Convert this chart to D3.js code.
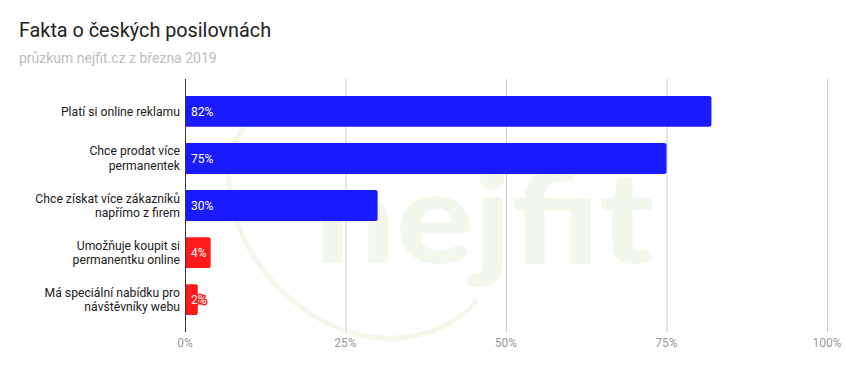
<!DOCTYPE html>
<html><head><meta charset="utf-8">
<script src="https://cdn.jsdelivr.net/npm/d3@7"></script>
<style>body{margin:0;background:#fff}svg{display:block;font-family:Roboto,"Noto Sans",sans-serif}</style>
</head><body><svg id="c" width="846" height="371"></svg>
<script>
const categories = [
  ["Platí si online reklamu"],
  ["Chce prodat více", "permanentek"],
  ["Chce získat více zákazníků", "napřímo z firem"],
  ["Umožňuje koupit si", "permanentku online"],
  ["Má speciální nabídku pro", "návštěvníky webu"]
];
const values = [82, 75, 30, 4, 2];
const barColors = ["#1a1aff", "#1a1aff", "#1a1aff", "#ff1a1a", "#ff1a1a"];
const ticks = [0, 25, 50, 75, 100];
const tickLabels = ["0%", "25%", "50%", "75%", "100%"];
const title = "Fakta o českých posilovnách";
const subtitle = "průzkum nejfit.cz z března 2019";

const svg = d3.select("#c");
const x = d3.scaleLinear().domain([0, 100]).range([185, 827]);
const y = d3.scaleBand().domain(d3.range(values.length)).range([79, 332]).paddingInner(0.344).paddingOuter(0.36);

// title
svg.append("text").attr("x", 19).attr("y", 37).attr("font-size", 19.8).attr("fill", "#212121").text(title);
svg.append("text").attr("x", 19).attr("y", 63).attr("font-size", 14).attr("fill", "#bdbdbd").text(subtitle);

// watermark
const wm = svg.append("g");
wm.append("path")
  .attr("d", "M292,103 C240,110 220,150 232,205 C248,270 300,320 360,335 C410,345 450,330 476,302")
  .attr("fill", "none").attr("stroke", "#f3f8ec").attr("stroke-width", 5).attr("stroke-linecap", "round");
wm.append("text").attr("x", 314).attr("y", 263).attr("font-size", 128).attr("font-weight", 900)
  .attr("font-family", "Lato, 'DejaVu Sans', sans-serif")
  .attr("textLength", 340).attr("lengthAdjust", "spacingAndGlyphs")
  .attr("fill", "#f3f8ec").text("nejfit");

// gridlines
svg.append("g").selectAll("line").data(ticks.slice(1)).join("line")
  .attr("x1", d => x(d) + 0.5).attr("x2", d => x(d) + 0.5)
  .attr("y1", 79).attr("y2", 332).attr("stroke", "#cccccc").attr("stroke-width", 1);

// bars with rounded right corners
const r = 2;
svg.append("g").selectAll("path").data(values).join("path")
  .attr("d", (d, i) => {
    const x0 = x(0), x1 = x(d), y0 = y(i), h = y.bandwidth();
    return `M${x0},${y0}H${x1 - r}Q${x1},${y0} ${x1},${y0 + r}V${y0 + h - r}Q${x1},${y0 + h} ${x1 - r},${y0 + h}H${x0}Z`;
  })
  .attr("fill", (d, i) => barColors[i]);

// value labels
svg.append("g").selectAll("text").data(values).join("text")
  .attr("x", x(0) + 6).attr("y", (d, i) => y(i) + y.bandwidth() / 2)
  .attr("dy", "0.35em").attr("font-size", 12).attr("fill", "#fff")
  .attr("stroke", (d, i) => barColors[i]).attr("stroke-width", 3).attr("paint-order", "stroke")
  .attr("stroke-linejoin", "round")
  .text(d => d + "%");

// axis line
svg.append("line").attr("x1", x(0) + 0.5).attr("x2", x(0) + 0.5).attr("y1", 79).attr("y2", 332)
  .attr("stroke", "#333").attr("stroke-width", 1);

// category labels
const cg = svg.append("g").selectAll("text").data(categories).join("text")
  .attr("text-anchor", "end").attr("font-size", 12.2).attr("fill", "#222");
cg.each(function (lines, i) {
  const cy = y(i) + y.bandwidth() / 2;
  const lh = 14.5;
  const start = cy - (lines.length - 1) * lh / 2;
  d3.select(this).selectAll("tspan").data(lines).join("tspan")
    .attr("x", 180).attr("y", (d, j) => start + j * lh).attr("dy", "0.35em").text(d => d);
});

// x tick labels
svg.append("g").selectAll("text").data(ticks).join("text")
  .attr("x", d => x(d)).attr("y", 343).attr("dy", "0.35em").attr("text-anchor", "middle")
  .attr("font-size", 12).attr("fill", "#999").text((d, i) => tickLabels[i]);
</script></body></html>
